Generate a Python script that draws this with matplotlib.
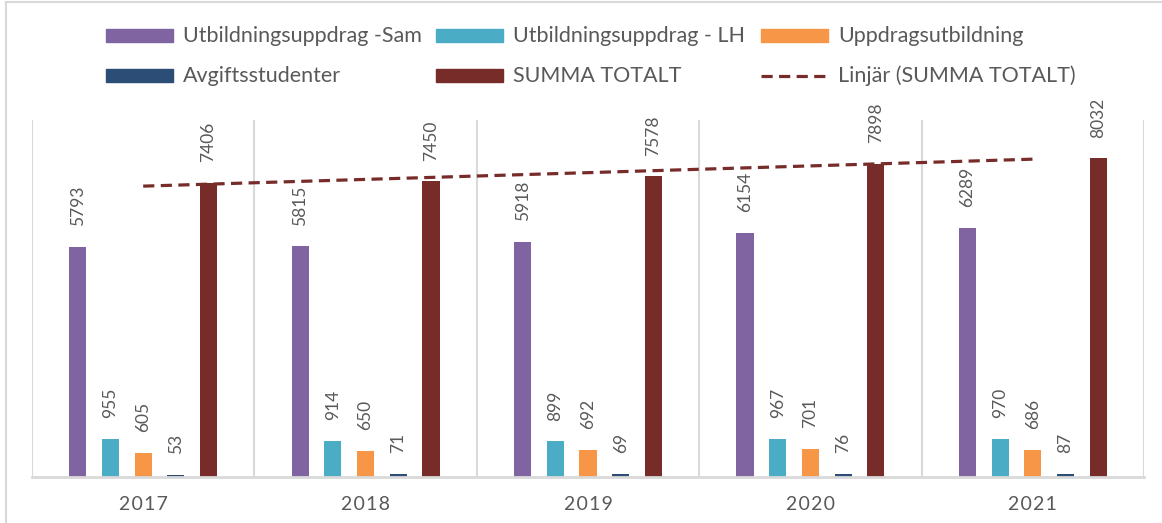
import numpy as np
import matplotlib
matplotlib.use("Agg")
import matplotlib.pyplot as plt
from matplotlib.patches import Rectangle
from matplotlib.lines import Line2D

years = ["2017", "2018", "2019", "2020", "2021"]
series_names = ["Utbildningsuppdrag -Sam", "Utbildningsuppdrag - LH", "Uppdragsutbildning",
                "Avgiftsstudenter", "SUMMA TOTALT"]
sam = [5793, 5815, 5918, 6154, 6289]
lh = [955, 914, 899, 967, 970]
uppdrag = [605, 650, 692, 701, 686]
avgift = [53, 71, 69, 76, 87]
summa = [7406, 7450, 7578, 7898, 8032]
trend_name = "Linjär (SUMMA TOTALT)"

colors = ["#8064A2", "#4BACC6", "#F79646", "#2C4D75", "#772C2A"]
grid_col = "#D9D9D9"
text_col = "#595959"
FONT = ["Lato", "DejaVu Sans"]
plt.rcParams["font.family"] = FONT

W, H = 1162, 523
fig = plt.figure(figsize=(W / 100, H / 100), dpi=100)
fig.patch.set_facecolor("white")

# outer chart border
fig.add_artist(Line2D([5.5 / W, 5.5 / W], [0, 1 - 1.5 / H], color=grid_col, lw=1.5))
fig.add_artist(Line2D([5.5 / W, 1], [1 - 1.5 / H, 1 - 1.5 / H], color=grid_col, lw=1.5))

ax = fig.add_axes([32 / W, (H - 477) / H, (1144 - 32) / W, (477 - 120) / H])
x = np.arange(1, 6)
all_series = [sam, lh, uppdrag, avgift, summa]
step = 0.147
width = 0.077
for i, (vals, c) in enumerate(zip(all_series, colors)):
    pos = x + (i - 2) * step
    bars = ax.bar(pos, vals, width=width, color=c, zorder=3)
    for b, v in zip(bars, vals):
        ax.annotate(str(v), (b.get_x() + b.get_width() / 2, v), xytext=(0, 15),
                    textcoords="offset points", rotation=90, ha="center", va="bottom",
                    fontsize=12.5, color=text_col)

# linear trendline of SUMMA TOTALT
k, m = np.polyfit(x, summa, 1)
ax.plot(x, k * x + m, color="#772C2A", lw=2.3, ls=(0, (3.5, 2)), zorder=4,
        solid_capstyle="butt", dash_capstyle="butt")

for xb in np.arange(0.5, 6.0, 1.0):
    ax.axvline(xb, color=grid_col, lw=1.5, zorder=1)

ax.set_xlim(0.5, 5.5)
ax.set_ylim(0, 9000)
ax.set_yticks([])
ax.set_xticks(x)
ax.set_xticklabels(["\u200a".join(y) for y in years], fontsize=14, color=text_col)
ax.tick_params(axis="x", length=0, pad=14)
for s in ["top", "right", "left"]:
    ax.spines[s].set_visible(False)
ax.spines["bottom"].set_color(grid_col)
ax.spines["bottom"].set_linewidth(2)
ax.spines["bottom"].set_zorder(5)

# legend (manual layout, three equal columns)
col_x = [106, 436, 761]
row_y = [35.5, 76]
entries = [(series_names[0], colors[0], "patch"), (series_names[1], colors[1], "patch"),
           (series_names[2], colors[2], "patch"), (series_names[3], colors[3], "patch"),
           (series_names[4], colors[4], "patch"), (trend_name, "#772C2A", "line")]
for idx, (name, c, kind) in enumerate(entries):
    cx = col_x[idx % 3]
    cy = row_y[idx // 3]
    if kind == "patch":
        fig.add_artist(Rectangle((cx / W, 1 - (cy + 6.5) / H), 67 / W, 13 / H,
                                 transform=fig.transFigure, color=c))
    else:
        fig.add_artist(Line2D([cx / W, (cx + 67) / W], [1 - cy / H, 1 - cy / H],
                              color=c, lw=2.3, ls=(0, (3.5, 2))))
    fig.text((cx + 77) / W, 1 - cy / H, name, fontsize=15.5, color=text_col,
             va="center", ha="left")

fig.savefig("out.png", dpi=100, facecolor="white")
